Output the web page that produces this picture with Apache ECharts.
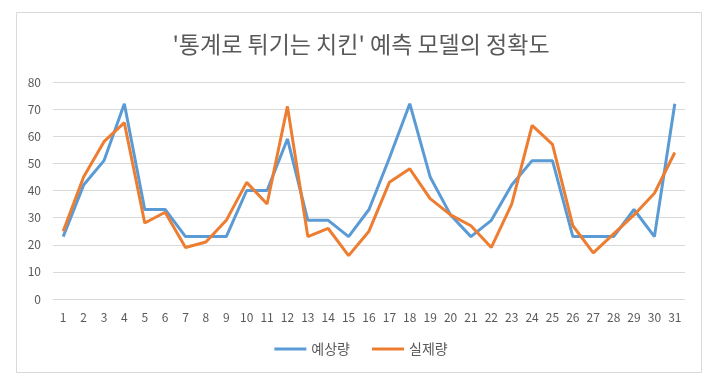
<!DOCTYPE html>
<html><head><meta charset="utf-8">
<script src="https://cdn.jsdelivr.net/npm/echarts@6/dist/echarts.min.js"></script>
<style>html,body{margin:0;padding:0;background:#fff}#c{width:722px;height:387px}</style>
</head><body><div id="c"></div>
<script>
const days = ['1','2','3','4','5','6','7','8','9','10','11','12','13','14','15','16','17','18','19','20','21','22','23','24','25','26','27','28','29','30','31'];
const predicted = [23,42,51,72,33,33,23,23,23,40,40,59,29,29,23,33,52,72,45,31,23,29,42,51,51,23,23,23,33,23,72];
const actual = [25,45,58,65,28,32,19,21,29,43,35,71,23,26,16,25,43,48,37,31,27,19,35,64,57,27,17,24,31,39,54];
const titleText = "'통계로 튀기는 치킨' 예측 모델의 정확도";
const seriesNames = ['예상량','실제량'];
const font = '"Noto Sans CJK KR", sans-serif';
const chart = echarts.init(document.getElementById('c'));
chart.setOption({
  animation: false,
  graphic: [{type:'rect', shape:{x:16.5,y:12.5,width:685,height:360}, style:{fill:'none', stroke:'#d9d9d9', lineWidth:1}, z:-1}],
  title: {text: titleText, left: 'center', top: 28, textStyle:{fontFamily:font, fontSize:23, fontWeight:'normal', color:'#595959'}},
  legend: {bottom: 26, itemGap: 22, itemWidth: 32, itemHeight: 3, icon:'rect', data: seriesNames,
    textStyle:{fontFamily:font, fontSize:14, color:'#595959'}},
  grid: {left: 53, right: 37, top: 82, bottom: 88},
  xAxis: {type:'category', data: days, boundaryGap: true,
    axisLine:{show:false}, axisTick:{show:false},
    axisLabel:{fontFamily:font, fontSize:12, color:'#595959', margin:12, interval:0}},
  yAxis: {type:'value', min:0, max:80, interval:10,
    axisLine:{show:false}, axisTick:{show:false},
    axisLabel:{fontFamily:font, fontSize:12, color:'#595959', margin:12},
    splitLine:{lineStyle:{color:'#d9d9d9', width:1}}},
  series: [
    {name: seriesNames[0], type:'line', data: predicted, symbol:'none', lineStyle:{width:3, color:'#5B9BD5'}, itemStyle:{color:'#5B9BD5'}},
    {name: seriesNames[1], type:'line', data: actual, symbol:'none', lineStyle:{width:3, color:'#ED7D31'}, itemStyle:{color:'#ED7D31'}}
  ]
});
</script></body></html>
